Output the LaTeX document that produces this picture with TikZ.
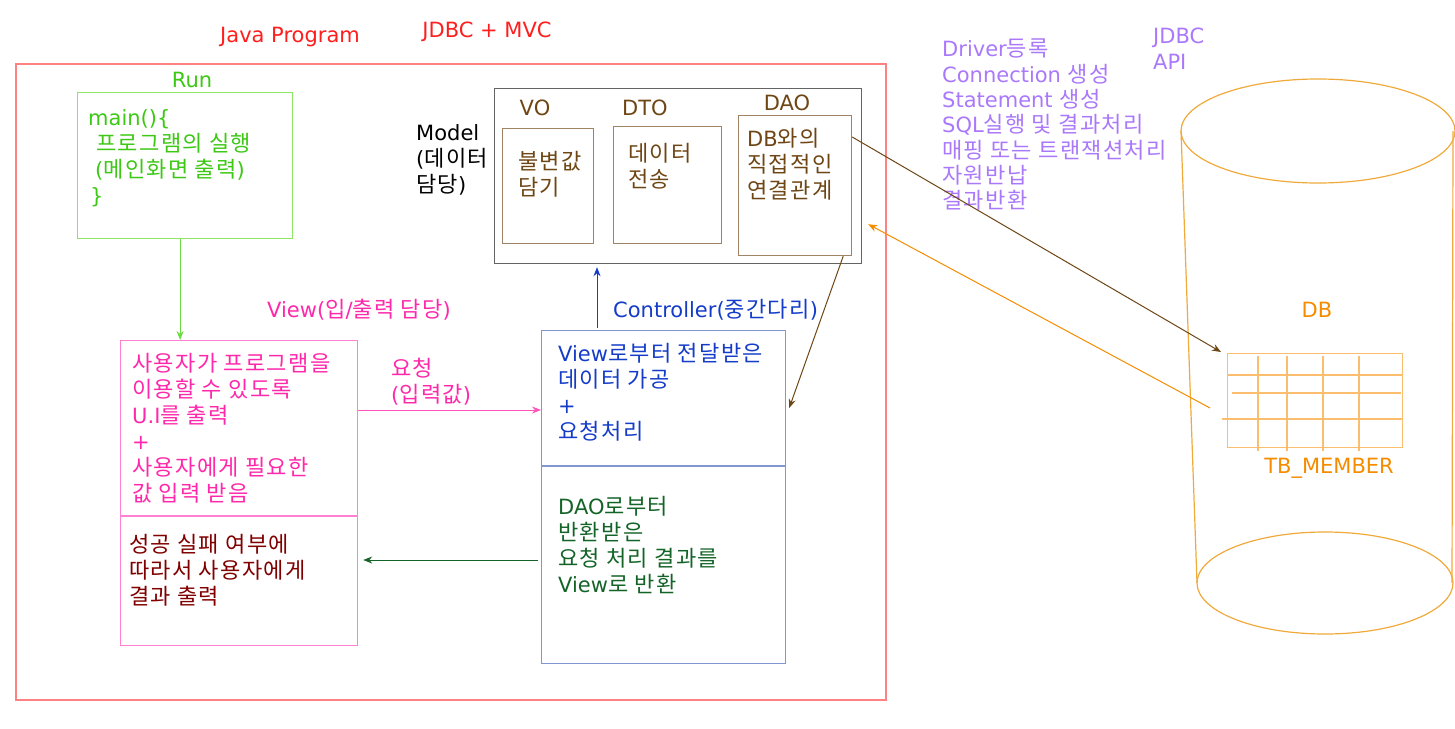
\documentclass[tikz,border=0pt]{standalone}
\usepackage{fontspec}
\setmainfont{DejaVu Sans}
\newfontfamily\krfont[Scale=1.05, LetterSpace=6]{Noto Sans CJK KR}
\newcommand\ko[1]{{\krfont#1}}
\usetikzlibrary{positioning,arrows.meta}

\definecolor{jred}{RGB}{255,30,30}
\definecolor{jframe}{RGB}{255,130,130}
\definecolor{rungreen}{RGB}{60,200,20}
\definecolor{runline}{RGB}{140,230,100}
\definecolor{viewpink}{RGB}{255,40,170}
\definecolor{viewline}{RGB}{255,130,210}
\definecolor{resultred}{RGB}{128,0,0}
\definecolor{ctrlblue}{RGB}{20,60,200}
\definecolor{ctrlline}{RGB}{130,150,210}
\definecolor{daogreen}{RGB}{20,100,40}
\definecolor{modelline}{RGB}{100,100,100}
\definecolor{partbrown}{RGB}{110,70,20}
\definecolor{partline}{RGB}{160,130,100}
\definecolor{apipurple}{RGB}{170,120,250}
\definecolor{dborange}{RGB}{245,140,0}
\definecolor{dbline}{RGB}{240,170,60}
\definecolor{tableline}{RGB}{250,190,110}

\begin{document}
\begin{tikzpicture}[
  x=1pt, y=-1pt,
  every node/.style={font=\fontsize{21}{26}\selectfont, inner sep=0pt},
  framebox/.style={draw, anchor=north west, line width=1.2pt},
  boxtext/.style={anchor=north west, align=left},
  conn/.style={-{Stealth[length=9pt,width=7pt]}, line width=1pt}
]
  \useasboundingbox (0,0) rectangle (1455,728);
  \clip (0,0) rectangle (1455,728);

  \node[text=jred] (javalabel) at (290,37) {Java Program};
  \node[text=jred] (mvclabel) at (487,32) {JDBC + MVC};
  \node[framebox, draw=jframe, line width=2pt, minimum width=870pt, minimum height=636pt] (programframe) at (15,63) {};

  \node[text=rungreen] (runlabel) at (192,80) {Run};
  \node[framebox, draw=runline, minimum width=215pt, minimum height=146pt] (runbox) at (77,92) {};
  \node[boxtext, text=rungreen] (runtext) at (88,109) {main()\{\\\hspace*{8pt}\ko{프로그램의 실행}\\\hspace*{7pt}(\ko{메인화면 출력})\\\hspace*{2pt}\}};

  \node[text=viewpink, anchor=west] (viewlabel) at (267,310) {View(\ko{입}/\ko{출력 담당})};
  \node[framebox, draw=viewline, minimum width=237pt, minimum height=305pt] (viewbox) at (120,340) {};
  \draw[viewline, line width=1.2pt] ([yshift=-176pt]viewbox.north west) -- ([yshift=-176pt]viewbox.north east);
  \node[boxtext, text=viewpink] (viewtop) at (132,353) {\ko{사용자가 프로그램을}\\\ko{이용할 수 있도록}\\U.I\ko{를 출력}\\+\\\ko{사용자에게 필요한}\\\ko{값 입력 받음}};
  \node[boxtext, text=resultred] (viewbottom) at (129,534) {\ko{성공 실패 여부에}\\\ko{따라서 사용자에게}\\\ko{결과 출력}};
  \node[boxtext, text=viewpink] (reqlabel) at (391,358) {\ko{요청}\\(\ko{입력값})};

  \node[text=ctrlblue, anchor=west] (ctrllabel) at (613,310) {Controller(\ko{중간다리})};
  \node[framebox, draw=ctrlline, minimum width=244pt, minimum height=333pt] (ctrlbox) at (541,330) {};
  \draw[ctrlline, line width=1.2pt] ([yshift=-136pt]ctrlbox.north west) -- ([yshift=-136pt]ctrlbox.north east);
  \node[boxtext, text=ctrlblue] (ctrltop) at (558,343) {View\ko{로부터 전달받은}\\\ko{데이터 가공}\\+\\\ko{요청처리}};
  \node[boxtext, text=daogreen] (ctrlbottom) at (558,496) {DAO\ko{로부터}\\\ko{반환받은}\\\ko{요청 처리 결과를}\\View\ko{로 반환}};

  \node[boxtext] (modellabel) at (416,124) {Model\\(\ko{데이터}\\\ko{담당})};
  \node[framebox, draw=modelline, minimum width=367pt, minimum height=175pt] (modelbox) at (494,88) {};
  \node[text=partbrown] (volabel) at (535,108) {VO};
  \node[text=partbrown] (dtolabel) at (645,108) {DTO};
  \node[text=partbrown] (daolabel) at (787,103) {DAO};
  \node[framebox, draw=partline, minimum width=91pt, minimum height=115pt] (vobox) at (502,128) {};
  \node[framebox, draw=partline, minimum width=108pt, minimum height=117pt] (dtobox) at (613,126) {};
  \node[framebox, draw=partline, minimum width=113pt, minimum height=140pt] (daobox) at (738,115) {};
  \node[boxtext, text=partbrown] (votext) at (518,151) {\ko{불변값}\\\ko{담기}};
  \node[boxtext, text=partbrown] (dtotext) at (628,143) {\ko{데이터}\\\ko{전송}};
  \node[boxtext, text=partbrown] (daotext) at (747,128) {DB\ko{와의}\\\ko{직접적인}\\\ko{연결관계}};

  \node[boxtext, text=apipurple, font=\fontsize{21}{25.3}\selectfont] (apisteps) at (942,39) {Driver\ko{등록}\\Connection \ko{생성}\\Statement \ko{생성}\\SQL\ko{실행 및 결과처리}\\\ko{매핑 또는 트랜잭션처리}\\\ko{자원반납}\\\ko{결과반환}};
  \node[boxtext, text=apipurple] (apilabel) at (1153,28) {JDBC\\API};

  \draw[dbline, line width=1.2pt] (1318,131) ellipse [x radius=137pt, y radius=52pt];
  \draw[dbline, line width=1.2pt] (1325,583) ellipse [x radius=128pt, y radius=51pt];
  \draw[dbline, line width=1.2pt] (1181,131) -- (1197,583);
  \draw[dbline, line width=1.2pt] (1453,131) -- (1452,583);
  \node[text=dborange] (dblabel) at (1317,310) {DB};
  \node[framebox, draw=tableline, minimum width=175pt, minimum height=94pt] (tablebox) at (1227,353) {};
  \draw[tableline, line width=1.2pt] ([yshift=-22pt]tablebox.north west) -- ([yshift=-22pt]tablebox.north east);
  \draw[tableline, line width=1.2pt] ([xshift=5pt,yshift=-40pt]tablebox.north west) -- ([xshift=-2pt,yshift=-40pt]tablebox.north east);
  \draw[tableline, line width=1.2pt] ([xshift=-5pt,yshift=-66pt]tablebox.north west) -- ([yshift=-66pt]tablebox.north east);
  \foreach \cx in {31,60,96,132}
    \draw[tableline, line width=1.2pt] ([xshift=\cx pt,yshift=-3pt]tablebox.north west) -- ([xshift=\cx pt,yshift=-3pt]tablebox.south west);
  \node[text=dborange] (tablelabel) at (1329,468) {TB\_MEMBER};

  \draw[conn, runline!60!rungreen] ([xshift=-5pt]runbox.south) -- ([xshift=-5pt]runbox.south |- viewbox.north);
  \draw[conn, viewpink!80] ([yshift=-70pt]viewbox.north east) -- ([yshift=-70pt]viewbox.north east -| ctrlbox.west);
  \draw[conn, daogreen] ([xshift=-3pt,yshift=-230pt]ctrlbox.north west) -- ([xshift=5pt,yshift=-230pt]ctrlbox.north west -| viewbox.east);
  \draw[conn, ctrlblue] ([xshift=56pt,yshift=2pt]ctrlbox.north west) -- ([xshift=56pt,yshift=-3pt]ctrlbox.north west |- modelbox.south);
  \draw[conn, partbrown] ([yshift=-22pt]daobox.north east) -- ([xshift=-6pt,yshift=1pt]tablebox.north west);
  \draw[conn, partbrown] ([xshift=-9pt]daobox.south east) -- ([xshift=3pt,yshift=-78pt]ctrlbox.north east);
  \draw[conn, dborange] ([xshift=-17pt,yshift=-55pt]tablebox.north west) -- ([xshift=6pt,yshift=40pt]modelbox.south east);
\end{tikzpicture}
\end{document}
